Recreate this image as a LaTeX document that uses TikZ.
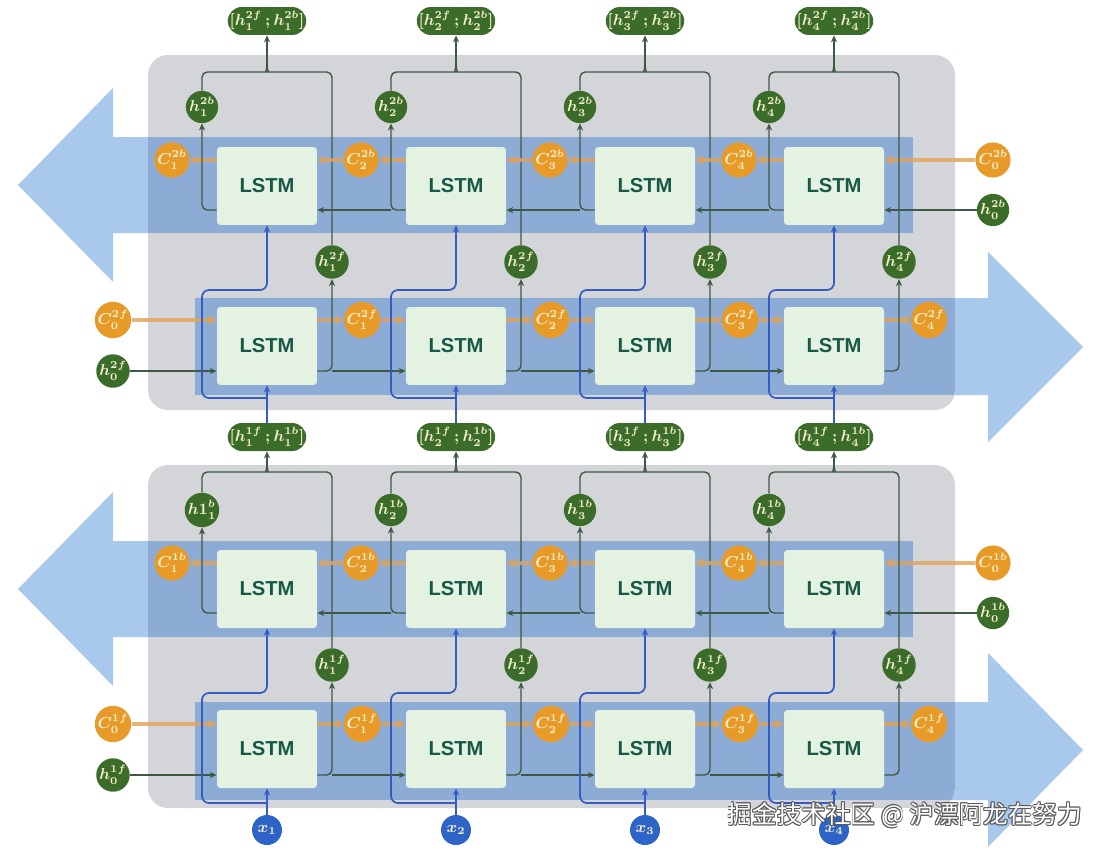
\documentclass[tikz,border=0pt]{standalone}
\usepackage{fontspec}
\setsansfont{Liberation Sans}
\newfontfamily\cjk{Noto Sans CJK SC}
\usetikzlibrary{arrows.meta}
\definecolor{panelgray}{RGB}{212,213,217}
\definecolor{bandblue}{RGB}{140,172,214}
\definecolor{arrowblue}{RGB}{168,200,236}
\definecolor{boxfill}{RGB}{228,242,226}
\definecolor{lstmtext}{RGB}{24,88,70}
\definecolor{hgreen}{RGB}{60,108,42}
\definecolor{corange}{RGB}{232,154,40}
\definecolor{xblue}{RGB}{46,100,200}
\definecolor{gline}{RGB}{62,88,68}
\definecolor{oline}{RGB}{226,162,88}
\definecolor{bline}{RGB}{52,92,196}
\definecolor{circtext}{RGB}{246,240,205}
\definecolor{wmgray}{RGB}{90,90,90}
\newcommand\mfix{\fontdimen17\textfont2=3.1pt\relax\fontdimen13\textfont2=4.0pt\relax}
\pgfdeclarelayer{bg}
\pgfdeclarelayer{lines}
\pgfsetlayers{bg,lines,main}
\tikzset{
  lstm/.style={fill=boxfill, rounded corners=2pt, minimum width=2cm, minimum height=1.56cm, inner sep=0pt, font=\sffamily\bfseries\fontsize{11.5}{12}\selectfont, text=lstmtext},
  hc/.style={circle, fill=hgreen, minimum size=0.6cm, inner sep=0pt, text=circtext, font=\fontsize{9}{9}\selectfont\boldmath},
  cc/.style={hc, fill=corange},
  xc/.style={hc, fill=xblue},
  pill/.style={rounded corners=0.28cm, fill=hgreen, minimum width=1.54cm, minimum height=0.56cm, inner sep=1pt, text=circtext, font=\fontsize{9}{9}\selectfont\boldmath},
  gl/.style={draw=gline, line width=0.8pt, rounded corners=3pt},
  ga/.style={gl, -{Stealth[length=4pt,width=3.5pt]}},
  ol/.style={draw=oline, line width=1.9pt, opacity=0.8},
  oa/.style={ol, -{Stealth[length=5pt,width=5.5pt]}},
  bl/.style={draw=bline, line width=1pt, rounded corners=4pt},
  ba/.style={bl, -{Stealth[length=4pt,width=3.5pt]}},
  wm/.style={font=\cjk\fontsize{14}{14}\selectfont},
}
\begin{document}
\begin{tikzpicture}[x=0.02cm,y=-0.02cm]
\useasboundingbox (0,0) rectangle (1108,852);
\begin{pgfonlayer}{bg}
 \fill[arrowblue] (913,137) -- (113,137) -- (113,88) -- (18,185) -- (113,282) -- (113,233) -- (913,233) -- cycle;
 \fill[arrowblue] (195,298) -- (988,298) -- (988,252) -- (1083,347) -- (988,442) -- (988,395) -- (195,395) -- cycle;
 \fill[arrowblue] (913,541) -- (113,541) -- (113,492) -- (18,589) -- (113,686) -- (113,637) -- (913,637) -- cycle;
 \fill[arrowblue] (195,702) -- (988,702) -- (988,653) -- (1083,750) -- (988,847) -- (988,800) -- (195,800) -- cycle;
 \fill[panelgray, rounded corners=0.4cm] (148,55) rectangle (955,410);
 \fill[panelgray, rounded corners=0.4cm] (148,465) rectangle (955,808);
 \begin{scope}
  \clip[rounded corners=0.4cm] (148,55) rectangle (955,410);
  \fill[bandblue] (148,137) rectangle (913,233);
  \fill[bandblue] (195,298) rectangle (955,395);
 \end{scope}
 \begin{scope}
  \clip[rounded corners=0.4cm] (148,465) rectangle (955,808);
  \fill[bandblue] (148,541) rectangle (913,637);
  \fill[bandblue] (195,702) rectangle (955,800);
 \end{scope}
\end{pgfonlayer}

% fixed initial-state nodes
\node[cc] (cb20) at (993,160) {$\mfix C^{2b}_{0}$};
\node[hc] (hb20) at (993,210) {$\mfix h^{2b}_{0}$};
\node[cc] (cf20) at (113,320) {$\mfix C^{2f}_{0}$};
\node[hc] (hf20) at (113,371) {$\mfix h^{2f}_{0}$};
\node[cc] (cb10) at (993,563) {$\mfix C^{1b}_{0}$};
\node[hc] (hb10) at (993,613) {$\mfix h^{1b}_{0}$};
\node[cc] (cf10) at (113,724) {$\mfix C^{1f}_{0}$};
\node[hc] (hf10) at (113,775) {$\mfix h^{1f}_{0}$};

\foreach \k in {1,2,3,4}{
  \pgfmathsetmacro\cx{267+(\k-1)*189}
  \node[lstm] (B2\k) at (\cx,186) {LSTM};
  \node[lstm] (F2\k) at (\cx,346) {LSTM};
  \node[lstm] (B1\k) at (\cx,589) {LSTM};
  \node[lstm] (F1\k) at (\cx,749) {LSTM};
  \node[hc] (hb2\k) at (\cx-65,107) {$\mfix h^{2b}_{\k}$};
  \node[cc] (cb2\k) at (\cx-95,160) {$\mfix C^{2b}_{\k}$};
  \node[hc] (hf2\k) at (\cx+65,262) {$\mfix h^{2f}_{\k}$};
  \node[cc] (cf2\k) at (\cx+95,320) {$\mfix C^{2f}_{\k}$};
  \ifnum\k=1
    \node[hc] (hb1\k) at (\cx-65,510) {$\mfix h1^{b}_{1}$};
  \else
    \node[hc] (hb1\k) at (\cx-65,510) {$\mfix h^{1b}_{\k}$};
  \fi
  \node[cc] (cb1\k) at (\cx-95,563) {$\mfix C^{1b}_{\k}$};
  \node[hc] (hf1\k) at (\cx+65,665) {$\mfix h^{1f}_{\k}$};
  \node[cc] (cf1\k) at (\cx+95,724) {$\mfix C^{1f}_{\k}$};
  \node[xc] (x\k) at (\cx,830) {$x_{\k}$};
  \node[pill] (P2\k) at (\cx,21) {$\mfix [h^{2f}_{\k}\,;h^{2b}_{\k}]$};
  \node[pill] (P1\k) at (\cx,437) {$\mfix [h^{1f}_{\k}\,;h^{1b}_{\k}]$};
  \coordinate (J2\k) at (\cx,66);
  \coordinate (JL2\k) at (\cx-6,72);
  \coordinate (JR2\k) at (\cx+6,72);
  \coordinate (J1\k) at (\cx,466);
  \coordinate (JL1\k) at (\cx-6,472);
  \coordinate (JR1\k) at (\cx+6,472);
  \coordinate (L2\k) at (\cx,398);
  \coordinate (LT2\k) at (\cx-65,290);
  \coordinate (L1\k) at (\cx,803);
  \coordinate (LT1\k) at (\cx-65,693);
}

\begin{pgfonlayer}{lines}
\foreach \L in {1,2}{
  \draw[oa] (cb\L0) -- (B\L4.east |- cb\L0);
  \draw[ga] (hb\L0) -- (B\L4.east |- hb\L0);
  \draw[oa] (cf\L0) -- (F\L1.west |- cf\L0);
  \draw[ga] (hf\L0) -- (F\L1.west |- hf\L0);
  \foreach \k in {1,2,3,4}{
    \pgfmathtruncatemacro\kp{\k-1}
    \pgfmathtruncatemacro\kn{\k+1}
    % backward row
    \draw[oa] (B\L\k.west |- cb\L\k) -- (cb\L\k);
    \ifnum\k>1 \draw[oa] (cb\L\k) -- (B\L\kp.east |- cb\L\k); \fi
    \draw[ga] (B\L\k.west |- hb\L0) -| (hb\L\k);
    \ifnum\k>1 \draw[ga] (hb\L\k |- hb\L0) -- (B\L\kp.east |- hb\L0); \fi
    % forward row
    \draw[oa] (F\L\k.east |- cf\L\k) -- (cf\L\k);
    \ifnum\k<4 \draw[oa] (cf\L\k) -- (F\L\kn.west |- cf\L\k); \fi
    \draw[ga] (F\L\k.east |- hf\L0) -| (hf\L\k);
    \ifnum\k<4 \draw[ga] (hf\L\k |- hf\L0) -- (F\L\kn.west |- hf\L0); \fi
    % merge to concat label
    \draw[gl] (hb\L\k) |- (JL\L\k) .. controls +(4,0) and +(0,3) .. (J\L\k);
    \draw[gl] (hf\L\k) |- (JR\L\k) .. controls +(-4,0) and +(0,3) .. (J\L\k);
    \draw[ga] (J\L\k) -- (P\L\k);
  }
}
\foreach \k in {1,2,3,4}{
  \draw[ba] (P1\k) -- (F2\k);
  \draw[ba] (L2\k) -| (LT2\k) -| (B2\k);
  \draw[ba] (x\k) -- (F1\k);
  \draw[ba] (L1\k) -| (LT1\k) -| (B1\k);
}
\end{pgfonlayer}

% watermark
\foreach \dx/\dy [count=\i] in {-0.9/0,0.9/0,0/-0.9,0/0.9,-0.7/-0.7,0.7/0.7,-0.7/0.7,0.7/-0.7}{
  \node[wm, text=wmgray] (wms\i) at (905+\dx,815+\dy) {掘金技术社区 @ 沪漂阿龙在努力};
}
\node[wm, text=white] (wmk) at (905,815) {掘金技术社区 @ 沪漂阿龙在努力};
\end{tikzpicture}
\end{document}
